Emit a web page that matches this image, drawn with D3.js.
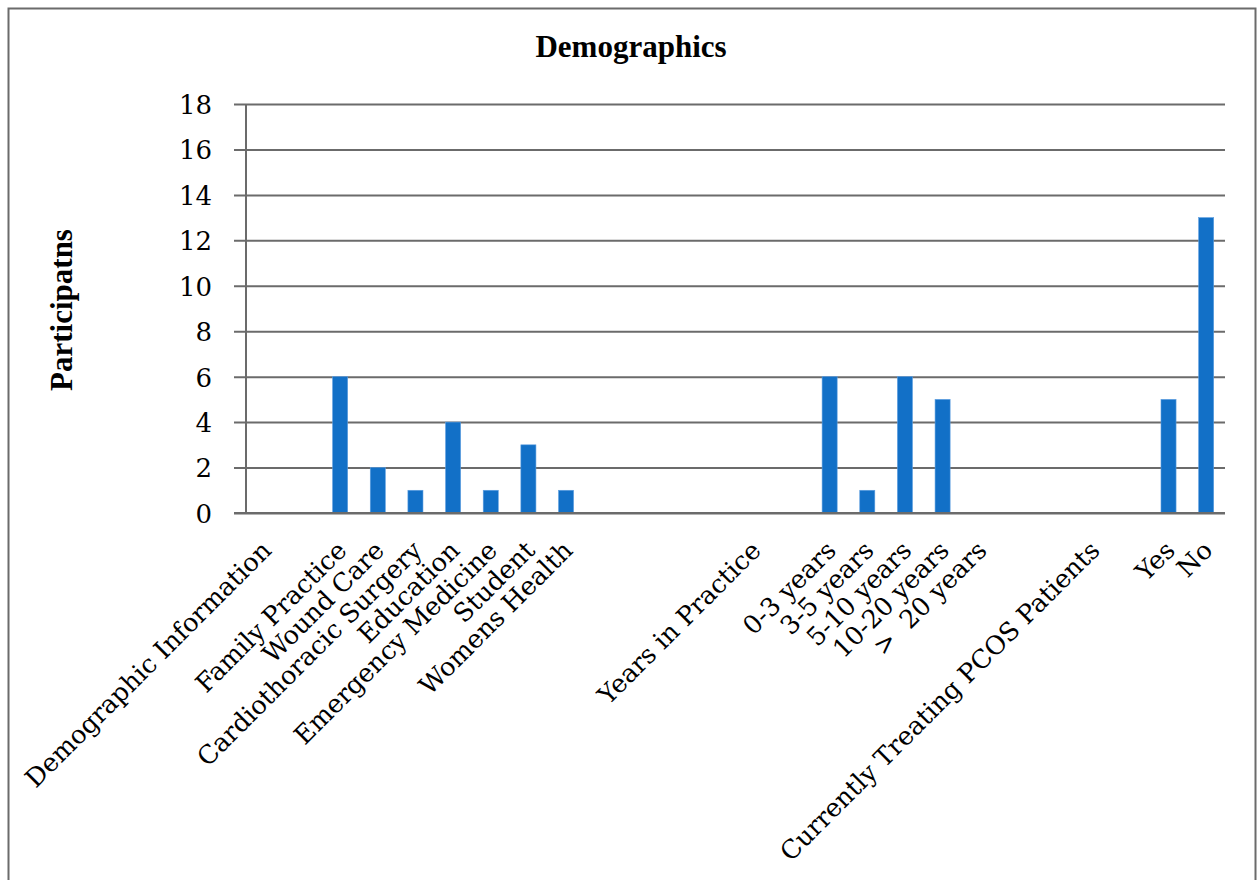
<!DOCTYPE html>
<html>
<head>
<meta charset="utf-8">
<script src="https://cdn.jsdelivr.net/npm/d3@7/dist/d3.min.js"></script>
<style>
  html, body { margin: 0; padding: 0; background: #fff; }
  svg { display: block; }
</style>
</head>
<body>
<script>
// Survey categories (empty strings are spacer slots between groups)
const categories = [
  "Demographic Information", "",
  "Family Practice", "Wound Care", "Cardiothoracic Surgery", "Education",
  "Emergency Medicine", "Student", "Womens Health",
  "", "", "", "",
  "Years in Practice", "",
  "0-3 years", "3-5 years", "5-10 years", "10-20 years", ">  20 years",
  "", "",
  "Currently Treating PCOS Patients", "",
  "Yes", "No"
];
// Participant counts per category (null = no bar)
const participants = [
  null, null,
  6, 2, 1, 4, 1, 3, 1,
  null, null, null, null,
  null, null,
  6, 1, 6, 5, 0,
  null, null,
  null, null,
  5, 13
];
const yTicks = [0, 2, 4, 6, 8, 10, 12, 14, 16, 18];

const W = 1259, H = 880;
const plot = { left: 246, right: 1225, top: 104, bottom: 513 };
const gridColor = "#6b6b6b";
const barColor = "#1270c7";
const labelFont = "'DejaVu Serif', serif";
const titleFont = "'Liberation Serif', 'Times New Roman', serif";

const svg = d3.select("body").append("svg")
  .attr("width", W).attr("height", H);

// Outer frame
svg.append("rect")
  .attr("x", 8.5).attr("y", 8.5)
  .attr("width", 1247).attr("height", H + 20)
  .attr("fill", "none").attr("stroke", gridColor).attr("stroke-width", 2);

const x = d3.scaleBand()
  .domain(d3.range(categories.length))
  .range([plot.left, plot.right])
  .padding(0);

const y = d3.scaleLinear()
  .domain([0, 18])
  .range([plot.bottom, plot.top]);

// Horizontal gridlines with outward tick stubs
const yAxis = d3.axisLeft(y)
  .tickValues(yTicks)
  .tickSize(-(plot.right - plot.left) - 12)
  .tickFormat(d3.format("d"))
  .tickPadding(22);

const gy = svg.append("g")
  .attr("transform", `translate(${plot.right},0)`)
  .call(yAxis);
gy.select(".domain").remove();
gy.selectAll(".tick line")
  .attr("x1", 0)
  .attr("x2", -(plot.right - plot.left) - 12)
  .attr("stroke", gridColor)
  .attr("stroke-width", 2);
gy.selectAll(".tick text")
  .attr("x", -(plot.right - plot.left) - 12 - 22)
  .attr("dy", "0.36em")
  .attr("font-family", labelFont)
  .attr("font-size", 26)
  .attr("fill", "#000")
  .style("font-variant-numeric", "oldstyle-nums");

// Vertical axis line
svg.append("line")
  .attr("x1", plot.left).attr("x2", plot.left)
  .attr("y1", plot.top).attr("y2", plot.bottom)
  .attr("stroke", gridColor).attr("stroke-width", 2);

// Bars
const bw = x.bandwidth() * 0.4;
svg.append("g")
  .selectAll("rect")
  .data(participants.map((v, i) => ({ i, v })).filter(d => d.v !== null && d.v > 0))
  .join("rect")
  .attr("x", d => x(d.i) + x.bandwidth() / 2 - bw / 2)
  .attr("width", bw)
  .attr("y", d => y(d.v))
  .attr("height", d => y(0) - y(d.v))
  .attr("fill", barColor)
  .attr("stroke", "#5d9ee0")
  .attr("stroke-width", 0.6);

// Redraw baseline over bar bottoms
svg.append("line")
  .attr("x1", plot.left - 12).attr("x2", plot.right)
  .attr("y1", y(0)).attr("y2", y(0))
  .attr("stroke", gridColor).attr("stroke-width", 2);

// Rotated category labels
svg.append("g")
  .selectAll("text")
  .data(categories.map((c, i) => ({ c, i })).filter(d => d.c !== ""))
  .join("text")
  .attr("transform", d => `translate(${x(d.i) + x.bandwidth() / 2 + 8},552) rotate(-45)`)
  .attr("text-anchor", "end")
  .attr("font-family", labelFont)
  .attr("font-size", 25.5)
  .attr("fill", "#000")
  .style("white-space", "pre")
  .text(d => d.c);

// Chart title
svg.append("text")
  .attr("x", 631).attr("y", 57)
  .attr("text-anchor", "middle")
  .attr("font-family", titleFont)
  .attr("font-weight", "bold")
  .attr("font-size", 31)
  .text("Demographics");

// Y axis title
svg.append("text")
  .attr("transform", "translate(72,310) rotate(-90)")
  .attr("text-anchor", "middle")
  .attr("font-family", titleFont)
  .attr("font-weight", "bold")
  .attr("font-size", 31)
  .text("Participatns");
</script>
</body>
</html>
